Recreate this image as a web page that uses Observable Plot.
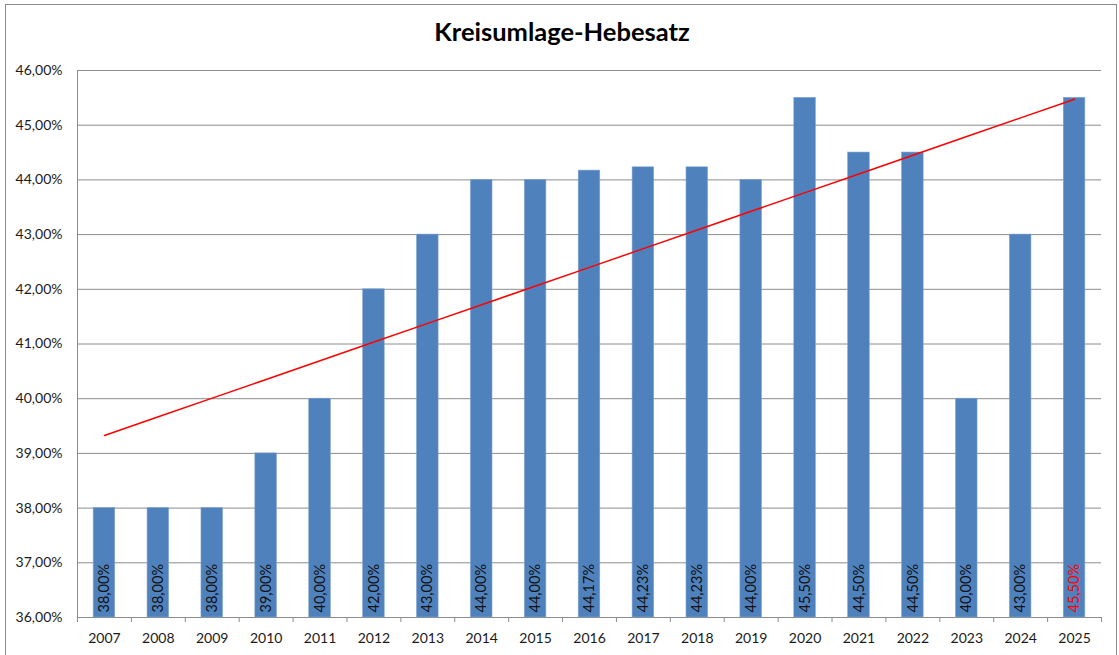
<!DOCTYPE html>
<html>
<head>
<meta charset="utf-8">
<script src="https://cdn.jsdelivr.net/npm/d3@7"></script>
<script src="https://cdn.jsdelivr.net/npm/@observablehq/plot@0.6"></script>
<style>
  html, body { margin: 0; padding: 0; background: #fff; }
  #wrap { position: relative; width: 1119px; height: 655px; overflow: hidden; font-family: Lato, "Open Sans", sans-serif; }
  #frame { position: absolute; left: 5px; top: 4px; width: 1112px; height: 700px; border: 1px solid #8c8c8c; box-sizing: border-box; }
  #title { position: absolute; left: 0; top: 16px; width: 1124px; text-align: center; font-size: 25.5px; font-weight: bold; color: #000; }
  #chart { position: absolute; left: 0; top: 0; }
</style>
</head>
<body>
<div id="wrap">
  <div id="frame"></div>
  <div id="title">Kreisumlage-Hebesatz</div>
  <div id="chart"></div>
</div>
<script>
const years = ["2007","2008","2009","2010","2011","2012","2013","2014","2015","2016","2017","2018","2019","2020","2021","2022","2023","2024","2025"];
const rates = [0.38,0.38,0.38,0.39,0.40,0.42,0.43,0.44,0.44,0.4417,0.4423,0.4423,0.44,0.455,0.445,0.445,0.40,0.43,0.455];
const highlightYear = "2025";
const yTicks = [0.36,0.37,0.38,0.39,0.40,0.41,0.42,0.43,0.44,0.45,0.46];

const fmt = v => (v * 100).toFixed(2).replace(".", ",") + "%";
const data = years.map((y, i) => ({year: y, rate: rates[i], label: fmt(rates[i]), hi: y === highlightYear}));

// least-squares trend line (like Excel's linear trend)
const n = rates.length;
const mx = (n - 1) / 2;
const my = d3.mean(rates);
let sxy = 0, sxx = 0;
rates.forEach((v, i) => { sxy += (i - mx) * (v - my); sxx += (i - mx) * (i - mx); });
const slope = sxy / sxx;
const trend = years.map((y, i) => ({year: y, fit: my + slope * (i - mx)}));

const W = 1119, H = 655, ML = 77, MR = 18, MT = 70, MB = 38;
const step = (W - ML - MR) / years.length;

const plot = Plot.plot({
  width: W, height: H,
  marginLeft: ML, marginRight: MR, marginTop: MT, marginBottom: MB,
  style: {fontFamily: "Lato, 'Open Sans', sans-serif", fontSize: "14px", color: "#1a1a1a", background: "transparent"},
  x: {domain: years, paddingInner: 0.6, paddingOuter: 0.3, round: false, axis: null},
  y: {domain: [0.36, 0.46], axis: null},
  marks: [
    Plot.ruleY(yTicks, {stroke: "#8c8c8c", strokeWidth: 1, strokeOpacity: 1}),
    Plot.ruleX([0], {x: () => years[0], dx: -step / 2, y1: 0.36, y2: 0.46, stroke: "#8c8c8c"}),
    Plot.ruleX(years, {x: d => d, dx: -step / 2, y1: 0.36, y2: 0.36, insetBottom: -5, stroke: "#8c8c8c"}),
    Plot.ruleX([years[years.length - 1]], {x: d => d, dx: step / 2, y1: 0.36, y2: 0.36, insetBottom: -5, stroke: "#8c8c8c"}),
    Plot.barY(data, {x: "year", y1: 0.36, y2: "rate", fill: "#4F81BD", stroke: "#7fa3d1", strokeWidth: 0.6}),
    Plot.text(data, {x: "year", y: 0.36, text: "label", rotate: -90, textAnchor: "start", dy: -5,
      fill: d => d.hi ? "#ff0000" : "#111", fontSize: 14.5}),
    Plot.line(trend, {x: "year", y: "fit", stroke: "#ff0000", strokeWidth: 1.5}),
    Plot.text(yTicks, {x: () => years[0], y: d => d, text: d => fmt(d), dx: -step / 2 - 15, textAnchor: "end", fill: "#1a1a1a", fontSize: 14}),
    Plot.text(years, {x: d => d, y: 0.36, text: d => d, dy: 21, fill: "#1a1a1a", fontSize: 14})
  ]
});
document.getElementById("chart").appendChild(plot);
</script>
</body>
</html>
